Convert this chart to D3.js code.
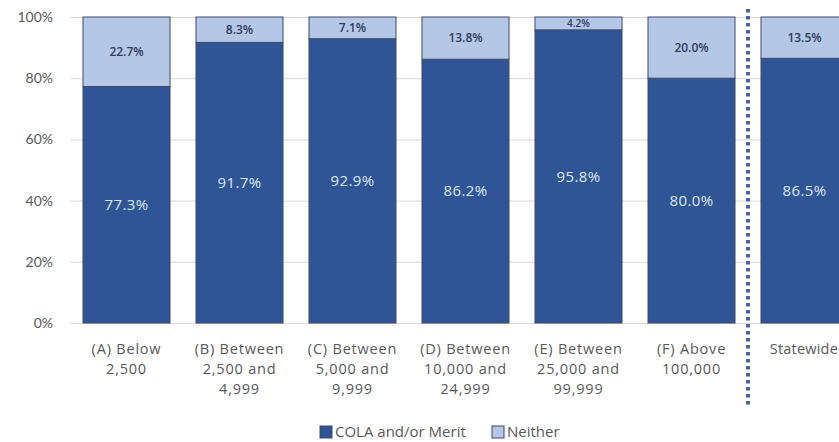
<!DOCTYPE html>
<html>
<head>
<meta charset="utf-8">
<script src="https://cdn.jsdelivr.net/npm/d3@7"></script>
<style>
  html, body { margin: 0; padding: 0; background: #fff; }
  svg { display: block; overflow: hidden; }
  text { font-family: "Open Sans", Lato, sans-serif; }
</style>
</head>
<body>
<svg id="chart" width="839" height="442"></svg>
<script>
// Share of responding entities by population group
const categories = [
  ["(A) Below", "2,500"],
  ["(B) Between", "2,500 and", "4,999"],
  ["(C) Between", "5,000 and", "9,999"],
  ["(D) Between", "10,000 and", "24,999"],
  ["(E) Between", "25,000 and", "99,999"],
  ["(F) Above", "100,000"],
  ["Statewide"]
];
const colaMerit = [77.3, 91.7, 92.9, 86.2, 95.8, 80.0, 86.5];
const neither   = [22.7, 8.3, 7.1, 13.8, 4.2, 20.0, 13.5];
const seriesNames = ["COLA and/or Merit", "Neither"];
const yTicks = [0, 20, 40, 60, 80, 100];

const colors = { dark: "#2F5597", light: "#B4C7E7", outline: "#3D4A66" };

const W = 839;
const svg = d3.select("#chart");
const margin = { left: 70, top: 17 };
const plotW = 791, plotH = 306;

const g = svg.append("g").attr("transform", `translate(${margin.left},${margin.top})`);

const x = d3.scaleBand()
  .domain(d3.range(categories.length))
  .range([0, plotW])
  .paddingInner(0.23)
  .paddingOuter(0.115);

const y = d3.scaleLinear().domain([0, 100]).range([plotH, 0]);

// gridlines and y labels
const yAxis = d3.axisLeft(y)
  .tickValues(yTicks)
  .tickSize(-plotW)
  .tickPadding(17)
  .tickFormat(d => d + "%");
const ya = g.append("g").call(yAxis);
ya.select(".domain").remove();
ya.selectAll(".tick line").attr("stroke", "#D9D9D9").attr("stroke-width", 1);
ya.selectAll(".tick text")
  .attr("fill", "#595959")
  .style("font-family", "Lato, sans-serif")
  .style("font-size", "14px");

const data = categories.map((c, i) => ({ i, c, a: colaMerit[i], b: neither[i] }));

const bars = g.selectAll(".bar").data(data).join("g").attr("class", "bar");

bars.append("rect")
  .attr("x", d => x(d.i))
  .attr("width", x.bandwidth())
  .attr("y", d => y(d.a))
  .attr("height", d => y(0) - y(d.a))
  .attr("fill", colors.dark)
  .attr("stroke", colors.outline)
  .attr("stroke-width", 1);

bars.append("rect")
  .attr("x", d => x(d.i))
  .attr("width", x.bandwidth())
  .attr("y", d => y(d.a + d.b))
  .attr("height", d => y(d.a) - y(d.a + d.b))
  .attr("fill", colors.light)
  .attr("stroke", colors.outline)
  .attr("stroke-width", 1);

bars.append("text")
  .attr("x", d => x(d.i) + x.bandwidth() / 2)
  .attr("y", d => y(d.a / 2))
  .attr("dy", "0.35em")
  .attr("text-anchor", "middle")
  .attr("fill", "#DDE6F4")
  .style("font-size", "15px")
  .style("letter-spacing", "0.4px")
  .text(d => d.a.toFixed(1) + "%");

bars.append("text")
  .attr("x", d => x(d.i) + x.bandwidth() / 2)
  .attr("y", d => y(d.a + d.b / 2))
  .attr("dy", "0.35em")
  .attr("text-anchor", "middle")
  .attr("fill", "#2E3D5C")
  .style("font-size", d => d.b < 6 ? "10px" : "12px")
  .style("font-weight", "600")
  .text(d => d.b.toFixed(1) + "%");

// category labels
const xl = g.selectAll(".xlab").data(data).join("text")
  .attr("class", "xlab")
  .attr("text-anchor", "middle")
  .attr("fill", "#595959")
  .style("font-size", "14.5px")
  .style("letter-spacing", "0.8px")
  .attr("transform", d => `translate(${x(d.i) + x.bandwidth() / 2},${plotH + 31})`);
xl.selectAll("tspan").data(d => d.c).join("tspan")
  .attr("x", 0)
  .attr("dy", (t, j) => j === 0 ? 0 : 20)
  .text(t => t);

// keep labels near the right edge inside the canvas
xl.each(function (d) {
  const el = d3.select(this);
  const bb = this.getBBox();
  const cx = x(d.i) + x.bandwidth() / 2;
  const right = margin.left + cx + bb.x + bb.width;
  if (right > W - 1) {
    el.style("letter-spacing", "0.2px");
    const bb2 = this.getBBox();
    const over = margin.left + cx + bb2.x + bb2.width - (W - 1);
    if (over > 0) el.attr("transform", `translate(${cx - over},${plotH + 31})`);
  }
});

// dotted separator before the statewide bar
const sepX = (x(5) + x.bandwidth() + x(6)) / 2;
g.append("line")
  .attr("x1", sepX).attr("x2", sepX)
  .attr("y1", -8).attr("y2", plotH + 82)
  .attr("stroke", "#4A62A6")
  .attr("stroke-width", 4)
  .attr("stroke-dasharray", "3.5,3.5");

// legend
const legend = svg.append("g").attr("transform", "translate(320,432)");
const items = [
  { name: seriesNames[0], color: colors.dark, x: 0 },
  { name: seriesNames[1], color: colors.light, x: 172 }
];
const li = legend.selectAll("g").data(items).join("g")
  .attr("transform", d => `translate(${d.x},0)`);
li.append("rect")
  .attr("x", 0).attr("y", -6)
  .attr("width", 12).attr("height", 12)
  .attr("fill", d => d.color)
  .attr("stroke", colors.outline)
  .attr("stroke-width", 1);
li.append("text")
  .attr("x", 15).attr("dy", "0.36em")
  .attr("fill", "#595959")
  .style("font-size", "15px")
  .text(d => d.name);
</script>
</body>
</html>
